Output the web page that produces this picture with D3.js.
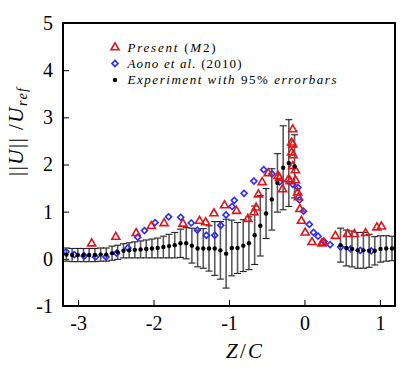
<!DOCTYPE html>
<html>
<head lang="en">
	<meta charset="UTF-8">
	<title>Velocity magnitude along span</title>
	<style>
	body { margin: 0; background: #fff; }
	text { font-family: "Liberation Serif", "DejaVu Serif", serif; }
	.present { fill: none; stroke: #e0141b; stroke-width: 1.6; }
	.aono { fill: none; stroke: #2b2bff; stroke-width: 1.6; }
	.stem { stroke: #5a5a5a; stroke-width: 1.6; }
	.cap { stroke: #222; stroke-width: 1.1; }
	</style>
	<script src="https://cdn.jsdelivr.net/npm/d3@7"></script>
</head>
<body>
<script>
	// experiment, with 95% error bars (half widths)
	var expZ = [-3.155, -3.079, -3.004, -2.928, -2.853, -2.777, -2.701, -2.626, -2.550, -2.475,
		-2.399, -2.323, -2.248, -2.172, -2.097, -2.021, -1.945, -1.870, -1.794, -1.719,
		-1.643, -1.567, -1.492, -1.416, -1.341, -1.265, -1.189, -1.114, -1.038, -0.963,
		-0.887, -0.811, -0.736, -0.660, -0.585, -0.509, -0.433, -0.358, -0.282, -0.207,
		-0.131,
		0.478, 0.554, 0.630, 0.705, 0.781, 0.857, 0.932, 1.008, 1.084, 1.160];
	var expU = [0.09, 0.08, 0.08, 0.08, 0.08, 0.08, 0.09, 0.09, 0.12, 0.14,
		0.17, 0.18, 0.19, 0.20, 0.21, 0.22, 0.23, 0.25, 0.27, 0.29,
		0.33, 0.33, 0.28, 0.22, 0.22, 0.22, 0.22, 0.18, 0.11, 0.23,
		0.23, 0.28, 0.33, 0.50, 0.70, 0.96, 1.26, 1.61, 1.93, 2.03,
		1.96,
		0.29, 0.23, 0.21, 0.18, 0.18, 0.17, 0.17, 0.21, 0.22, 0.22];
	var expErr = [0.14, 0.14, 0.14, 0.14, 0.14, 0.14, 0.14, 0.14, 0.15, 0.15,
		0.15, 0.16, 0.17, 0.18, 0.19, 0.20, 0.21, 0.23, 0.25, 0.27,
		0.30, 0.33, 0.37, 0.39, 0.42, 0.48, 0.57, 0.61, 0.73, 0.59,
		0.54, 0.55, 0.56, 0.62, 0.64, 0.53, 0.65, 0.62, 0.89, 0.92,
		0.67,
		0.36, 0.38, 0.38, 0.38, 0.38, 0.35, 0.30, 0.28, 0.27, 0.26];

	// Present (M2)
	var presentZ = [-2.82, -2.50, -2.23, -2.03, -1.86, -1.61, -1.39, -1.31, -1.20, -1.06,
		-0.90, -0.75, -0.67, -0.64, -0.61, -0.56, -0.48, -0.35, -0.33, -0.29,
		-0.21, -0.19, -0.17, -0.17, -0.155, -0.155, -0.15, -0.155, -0.12, -0.12,
		-0.09, -0.08, -0.06, -0.04, 0.01, 0.10, 0.23, 0.25, 0.41, 0.57,
		0.66, 0.81, 0.96, 1.02];
	var presentU = [0.34, 0.48, 0.56, 0.71, 0.77, 0.76, 0.82, 0.79, 0.98, 1.15,
		1.03, 0.86, 1.00, 1.10, 1.38, 1.64, 1.83, 1.77, 1.73, 1.49,
		1.70, 1.66, 2.48, 2.27, 2.76, 2.44, 2.21, 1.98, 1.89, 1.68,
		1.42, 1.32, 1.07, 0.82, 0.57, 0.37, 0.34, 0.36, 0.50, 0.54,
		0.54, 0.56, 0.68, 0.70];

	// Aono et al. (2010)
	var aonoZ = [-3.16, -3.05, -2.92, -2.77, -2.63, -2.49, -2.34, -2.21, -2.12, -1.98,
		-1.80, -1.64, -1.50, -1.42, -1.30, -1.19, -1.11, -1.04, -0.96, -0.93,
		-0.80, -0.67, -0.54, -0.43, -0.33, -0.155, -0.085, -0.066, -0.013, 0.065,
		0.12, 0.18, 0.26, 0.34, 0.48, 0.61, 0.74, 0.885];
	var aonoU = [0.15, 0.09, 0.06, 0.04, 0.04, 0.12, 0.23, 0.46, 0.60, 0.77,
		0.89, 0.88, 0.76, 0.61, 0.50, 0.50, 0.71, 0.93, 1.11, 1.24,
		1.39, 1.65, 1.89, 1.80, 1.63, 1.58, 1.51, 1.25, 1.01, 0.73,
		0.56, 0.48, 0.37, 0.30, 0.25, 0.21, 0.18, 0.17];

	var xTicks = [-3, -2, -1, 0, 1];
	var yTicks = [-1, 0, 1, 2, 3, 4, 5];

	window.onload = function(){
		var width = 416, height = 370;
		var margin = {left: 63, top: 23, right: 21, bottom: 64};

		var svg = d3.select("body").append("svg")
			.attr("width", width)
			.attr("height", height);

		var x = d3.scaleLinear().domain([-3.2, 1.2]).range([margin.left, width - margin.right]);
		var y = d3.scaleLinear().domain([-1, 5]).range([height - margin.bottom, margin.top]);

		var fmt = function(d){ return d < 0 ? "-" + (-d) : "" + d; };

		// minor ticks every 0.2
		var xMinor = x.ticks(22).filter(function(d){ return xTicks.indexOf(d) < 0; });
		var yMinor = y.ticks(30).filter(function(d){ return yTicks.indexOf(d) < 0; });

		var gx = svg.append("g")
			.attr("transform", "translate(0," + y.range()[0] + ")");
		gx.call(d3.axisBottom(x).tickValues(xMinor).tickSize(-3).tickFormat(""));
		gx.call(d3.axisBottom(x).tickValues(xTicks).tickSize(-6).tickPadding(10).tickFormat(fmt));

		var gy = svg.append("g")
			.attr("transform", "translate(" + x.range()[0] + ",0)");
		gy.call(d3.axisLeft(y).tickValues(yMinor).tickSize(-3).tickFormat(""));
		gy.call(d3.axisLeft(y).tickValues(yTicks).tickSize(-6).tickPadding(10).tickFormat(fmt));

		svg.selectAll(".domain").remove();
		svg.selectAll(".tick line").attr("stroke", "#000").attr("stroke-width", 1);
		svg.selectAll(".tick text").attr("font-size", 20).attr("fill", "#000")
			.style("font-family", "'Liberation Serif', serif");

		// error bars
		var exp = expZ.map(function(z, i){ return {z: z, u: expU[i], e: expErr[i]}; });
		var bars = svg.append("g").selectAll("g").data(exp).enter().append("g");
		bars.append("line").attr("class", "stem")
			.attr("x1", function(d){ return x(d.z); })
			.attr("x2", function(d){ return x(d.z); })
			.attr("y1", function(d){ return y(d.u - d.e); })
			.attr("y2", function(d){ return y(d.u + d.e); });
		[-1, 1].forEach(function(s){
			bars.append("line").attr("class", "cap")
				.attr("x1", function(d){ return x(d.z) - 3.5; })
				.attr("x2", function(d){ return x(d.z) + 3.5; })
				.attr("y1", function(d){ return y(d.u + s * d.e); })
				.attr("y2", function(d){ return y(d.u + s * d.e); });
		});

		var tri = d3.symbol().type(d3.symbolTriangle).size(28);
		var dia = d3.symbol().type(d3.symbolSquare).size(18);

		svg.append("g").selectAll("path")
			.data(aonoZ.map(function(z, i){ return [z, aonoU[i]]; }))
			.enter().append("path")
			.attr("class", "aono")
			.attr("d", dia)
			.attr("transform", function(d){ return "translate(" + x(d[0]) + "," + y(d[1]) + ")rotate(45)"; });

		svg.append("g").selectAll("path")
			.data(presentZ.map(function(z, i){ return [z, presentU[i]]; }))
			.enter().append("path")
			.attr("class", "present")
			.attr("d", tri)
			.attr("transform", function(d){ return "translate(" + x(d[0]) + "," + (y(d[1]) + 0.8) + ")"; });

		svg.append("g").selectAll("circle")
			.data(exp)
			.enter().append("circle")
			.attr("cx", function(d){ return x(d.z); })
			.attr("cy", function(d){ return y(d.u); })
			.attr("r", 2.2)
			.attr("fill", "#000");

		// frame
		svg.append("rect")
			.attr("x", x.range()[0]).attr("y", y.range()[1])
			.attr("width", x.range()[1] - x.range()[0])
			.attr("height", y.range()[0] - y.range()[1])
			.attr("fill", "none").attr("stroke", "#000").attr("stroke-width", 2);

		// legend
		var leg = svg.append("g").attr("transform", "translate(115,0)");
		leg.append("path").attr("class", "present").attr("d", tri).attr("transform", "translate(0,47.5)");
		leg.append("path").attr("class", "aono").attr("d", dia).attr("transform", "translate(0,63.5)rotate(45)");
		leg.append("circle").attr("cx", 0).attr("cy", 80).attr("r", 2.2).attr("fill", "#000");

		var t1 = leg.append("text").attr("x", 12.5).attr("y", 51.5).attr("font-size", 13)
			.attr("textLength", 88).attr("lengthAdjust", "spacing");
		t1.append("tspan").attr("font-style", "italic").text("Present ");
		t1.append("tspan").text("(");
		t1.append("tspan").attr("font-style", "italic").text("M");
		t1.append("tspan").text("2)");

		var t2 = leg.append("text").attr("x", 12.5).attr("y", 67.5).attr("font-size", 13)
			.attr("textLength", 114).attr("lengthAdjust", "spacing");
		t2.append("tspan").attr("font-style", "italic").text("Aono et al. ");
		t2.append("tspan").text("(2010)");

		var t3 = leg.append("text").attr("x", 12.5).attr("y", 83.5).attr("font-size", 13)
			.attr("textLength", 209).attr("lengthAdjust", "spacing");
		t3.append("tspan").attr("font-style", "italic").text("Experiment with ");
		t3.append("tspan").text("95% ");
		t3.append("tspan").attr("font-style", "italic").text("errorbars");

		// axis titles
		var xt = svg.append("text").attr("x", 244).attr("y", 358)
			.attr("text-anchor", "middle").attr("font-size", 21)
			.attr("textLength", 36).attr("lengthAdjust", "spacing");
		xt.append("tspan").attr("font-style", "italic").text("Z");
		xt.append("tspan").text("/");
		xt.append("tspan").attr("font-style", "italic").text("C");

		// norm bars drawn as two thin pipes each
		var yt = svg.append("text")
			.attr("transform", "translate(23,132)rotate(-90)")
			.attr("text-anchor", "middle").attr("font-size", 21)
			.attr("textLength", 88).attr("lengthAdjust", "spacing");
		yt.append("tspan").text("||");
		yt.append("tspan").attr("font-style", "italic").text("U");
		yt.append("tspan").text("|| /");
		yt.append("tspan").attr("font-style", "italic").text("U");
		yt.append("tspan").attr("font-style", "italic").attr("font-size", 14).attr("dy", 4).text("ref");
	};
</script>
</body>
</html>
